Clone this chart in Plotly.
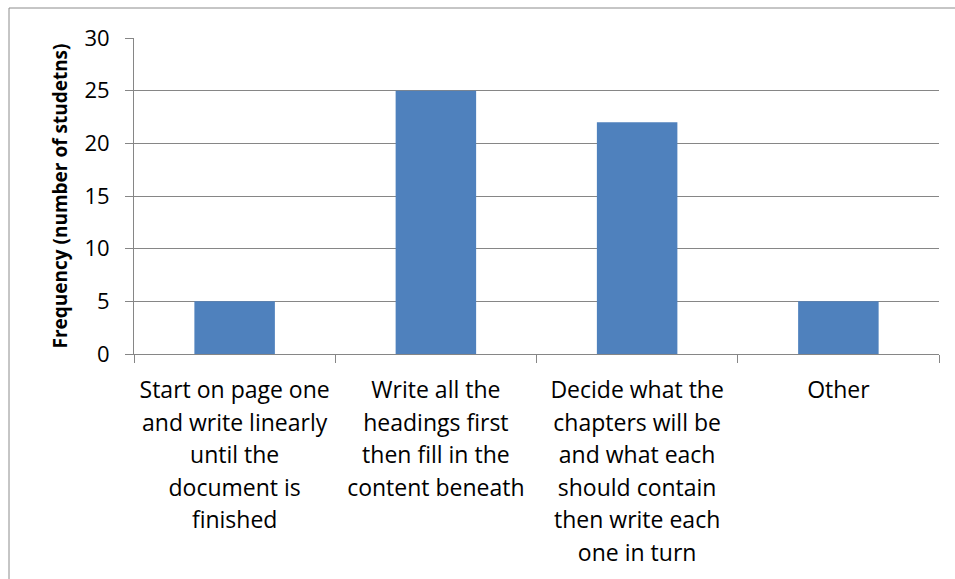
import plotly.graph_objects as go

categories = [
    "Start on page one<br>and write linearly<br>until the<br>document is<br>finished",
    "Write all the<br>headings first<br>then fill in the<br>content beneath",
    "Decide what the<br>chapters will be<br>and what each<br>should contain<br>then write each<br>one in turn",
    "Other",
]
values = [5, 25, 22, 5]
y_ticks = [0, 5, 10, 15, 20, 25, 30]

W, H = 955, 579
ml, mr, mt, mb = 134, 16, 38, 225
pw, ph = W - ml - mr, H - mt - mb

def styled(lbl):
    return "<br>".join('<span style="font-size:23px">%s</span>' % s for s in lbl.split("<br>"))

keys = ["c%d" % i for i in range(len(categories))]

fig = go.Figure(go.Bar(
    x=keys, y=values, width=0.4,
    marker=dict(color="#4F81BD", line=dict(width=0)),
))

grey = "#868686"
fig.update_layout(
    width=W, height=H,
    margin=dict(l=ml, r=mr, t=mt, b=mb, pad=0),
    paper_bgcolor="white", plot_bgcolor="white",
    font=dict(family="Open Sans, sans-serif", color="black"),
    showlegend=False,
    bargap=0.6,
    xaxis=dict(
        tickmode="array", tickvals=keys, ticktext=[styled(c) for c in categories],
        tickfont=dict(size=25), tickson="boundaries", ticks="outside", ticklen=8,
        tickcolor=grey, showline=True, linecolor=grey, linewidth=1,
        showgrid=False, zeroline=False, fixedrange=True, tickangle=0,
        ticklabelstandoff=13,
    ),
    yaxis=dict(
        range=[0, 30], tickvals=y_ticks, ticks="outside", ticklen=8, tickcolor=grey,
        showline=True, linecolor=grey, linewidth=1,
        showgrid=True, gridcolor=grey, gridwidth=1, zeroline=False,
        tickfont=dict(size=22), ticklabelstandoff=11,
        title=dict(text="<b>Frequency (number of studetns)</b>", font=dict(size=19), standoff=11),
    ),
    shapes=[dict(
        type="rect", xref="paper", yref="paper",
        x0=(9 - ml) / pw, x1=(W + 5 - ml) / pw,
        y0=-(H + 5 - mt - ph) / ph, y1=(H - 8 - mb) / ph,
        line=dict(color="#8c8c8c", width=1), fillcolor="rgba(0,0,0,0)", layer="below",
    )],
)

fig.write_html("out.html")
